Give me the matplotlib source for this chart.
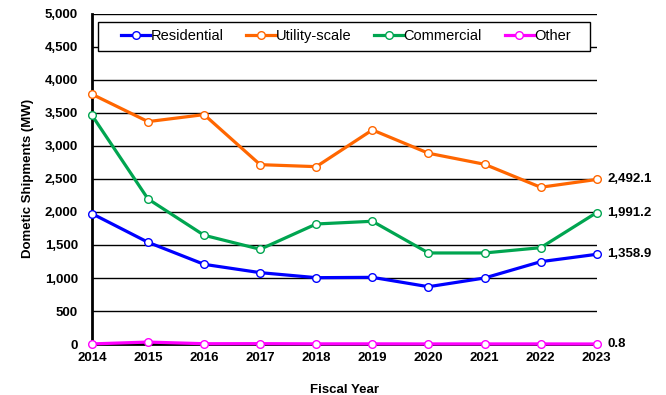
import numpy as np
import matplotlib
matplotlib.use('Agg')
import matplotlib.pyplot as plt
from matplotlib.ticker import FuncFormatter
from matplotlib.patches import Rectangle

plt.rcParams['font.family'] = ['Liberation Sans', 'DejaVu Sans']

# DATA
years = [2014, 2015, 2016, 2017, 2018, 2019, 2020, 2021, 2022, 2023]
residential = [1975, 1541, 1207, 1081, 1005, 1010, 868, 1000, 1247, 1358.9]
utility = [3783, 3368, 3474, 2716, 2686, 3242, 2889, 2722, 2374, 2492.1]
commercial = [3465, 2197, 1647, 1435, 1818, 1859, 1379, 1379, 1459, 1991.2]
other = [2, 30, 5, 6, 3, 3, 2, 2, 2, 0.8]

series = [('Residential', residential, '#0000FF'),
          ('Utility-scale', utility, '#FF6600'),
          ('Commercial', commercial, '#00A550'),
          ('Other', other, '#FF00FF')]

fig = plt.figure(figsize=(6.66, 3.95), dpi=100)
ax = fig.add_axes([0.138, 0.129, 0.758, 0.836])

for name, vals, col in series:
    ax.plot(years, vals, color=col, lw=2.3, marker='o', ms=5.5,
            mfc='white', mec=col, mew=1.0, label=name, zorder=3, clip_on=False)
    ax.text(years[-1] + 0.19, vals[-1], f'{vals[-1]:,.1f}', va='center', ha='left',
            fontsize=9.5, fontweight='bold')

ax.set_xlim(2014, 2023)
ax.set_ylim(0, 5000)
ax.set_xticks(years)
ax.set_yticks(np.arange(0, 5001, 500))
ax.yaxis.set_major_formatter(FuncFormatter(lambda v, p: f'{int(v):,}'))
ax.grid(axis='y', color='black', lw=1.0, zorder=1)
ax.spines['right'].set_visible(False)
ax.spines['top'].set_visible(False)
ax.spines['left'].set_linewidth(2)
ax.spines['bottom'].set_linewidth(2)
ax.tick_params(axis='both', length=0, labelsize=9.5)
ax.tick_params(axis='y', pad=10)
ax.tick_params(axis='x', pad=6)
for lab in ax.get_xticklabels() + ax.get_yticklabels():
    lab.set_fontweight('bold')

ax.set_xlabel('Fiscal Year', fontsize=9.5, fontweight='bold', labelpad=14)
ax.set_ylabel('Dometic Shipments (MW)', fontsize=9.5, fontweight='bold', labelpad=8)

# legend box
ax.add_patch(Rectangle((0.012, 0.888), 0.974, 0.088, transform=ax.transAxes,
                       facecolor='white', edgecolor='black', lw=1.0, zorder=4))
leg = ax.legend(loc='center', bbox_to_anchor=(0.058, 0.888, 0.89, 0.088), mode='expand',
                ncol=4, fontsize=10.5, frameon=False, handlelength=2.0,
                handletextpad=0.0, borderpad=0, borderaxespad=0)
leg.set_zorder(5)

fig.savefig('out.png', dpi=100)
